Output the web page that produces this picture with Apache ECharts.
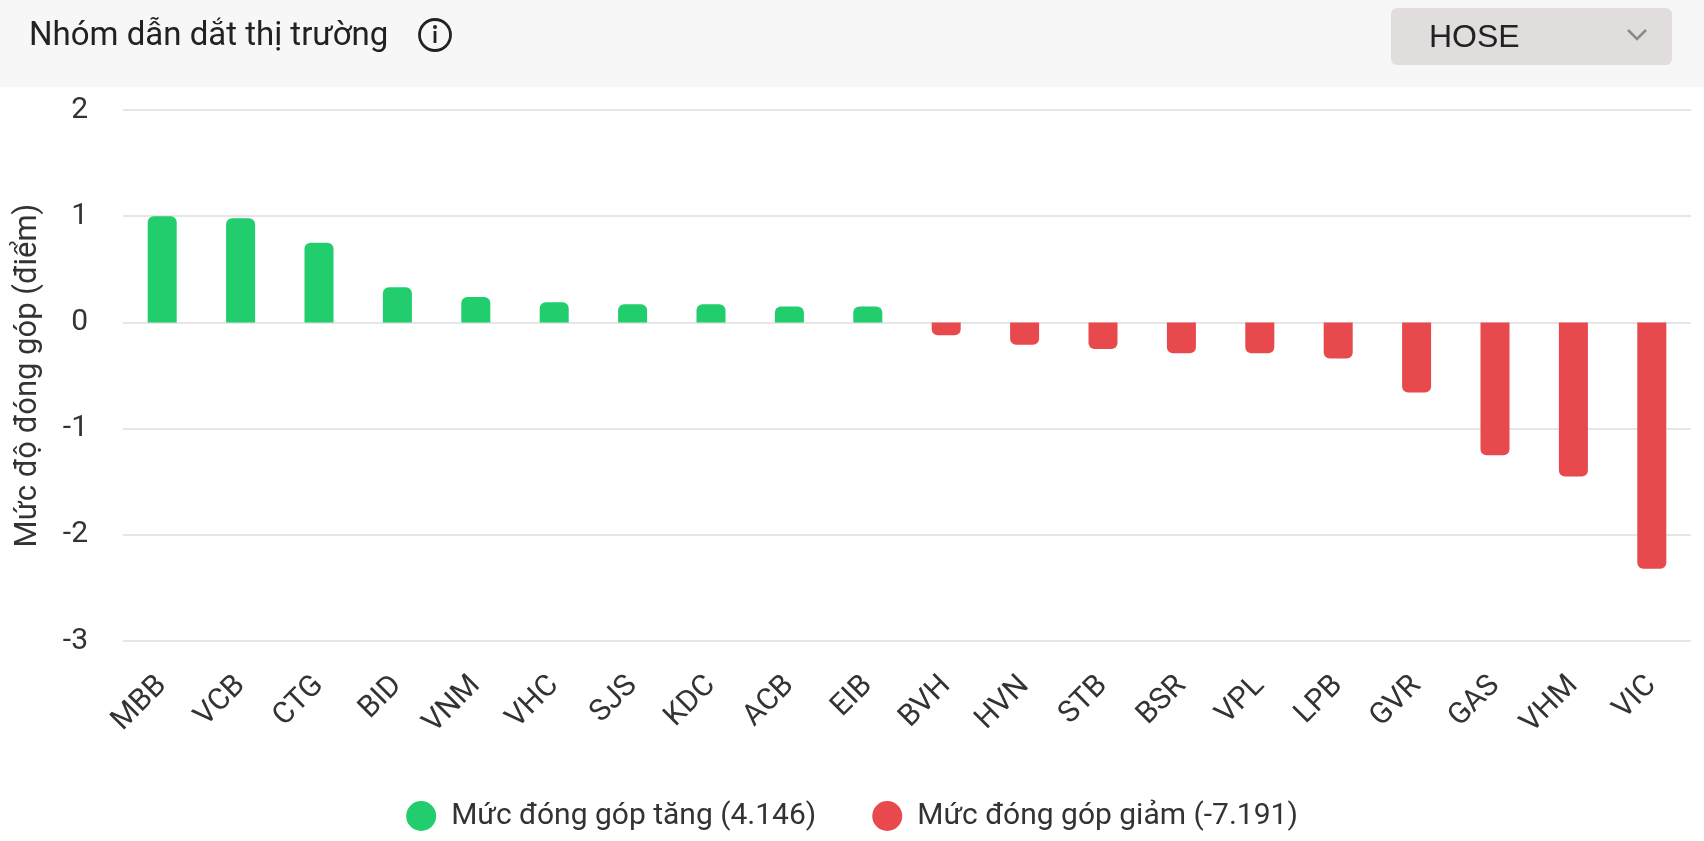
<!DOCTYPE html>
<html>
<head>
<meta charset="utf-8">
<script src="https://cdn.jsdelivr.net/npm/echarts@6/dist/echarts.min.js"></script>
<style>
  html, body { margin: 0; padding: 0; background: #fff; }
  #chart { width: 1704px; height: 841px; }
</style>
</head>
<body>
<div id="chart"></div>
<script>
const GREEN = '#21cd6d'
const RED = '#e8494c'

const categories = ['MBB', 'VCB', 'CTG', 'BID', 'VNM', 'VHC', 'SJS', 'KDC', 'ACB', 'EIB',
  'BVH', 'HVN', 'STB', 'BSR', 'VPL', 'LPB', 'GVR', 'GAS', 'VHM', 'VIC']
const upValues = [1.0, 0.98, 0.75, 0.33, 0.24, 0.19, 0.17, 0.17, 0.15, 0.15,
  '-', '-', '-', '-', '-', '-', '-', '-', '-', '-']
const downValues = ['-', '-', '-', '-', '-', '-', '-', '-', '-', '-',
  -0.12, -0.21, -0.25, -0.29, -0.29, -0.34, -0.66, -1.25, -1.45, -2.32]
const upName = 'Mức đóng góp tăng (4.146)'
const downName = 'Mức đóng góp giảm (-7.191)'
const yTicks = [-3, -2, -1, 0, 1, 2]

const FONT = 'Roboto'
const chart = echarts.init(document.getElementById('chart'), null, { renderer: 'canvas' })

const option = {
  backgroundColor: '#ffffff',
  animation: false,
  title: {
    text: 'Nhóm dẫn dắt thị trường',
    left: 24,
    top: 15,
    textStyle: { fontFamily: FONT, fontSize: 33, fontWeight: 'normal', color: '#222' }
  },
  graphic: [
    // header band
    { type: 'rect', z: -10, shape: { x: 0, y: 0, width: 1704, height: 87 }, style: { fill: '#f7f7f7' } },
    // info icon
    { type: 'circle', shape: { cx: 435, cy: 35, r: 15.5 }, style: { fill: 'none', stroke: '#222', lineWidth: 2.8 } },
    { type: 'circle', shape: { cx: 435, cy: 27, r: 2 }, style: { fill: '#222' } },
    { type: 'rect', shape: { x: 433.6, y: 31, width: 2.8, height: 12 }, style: { fill: '#222' } },
    // dropdown
    { type: 'rect', shape: { x: 1391, y: 8, width: 281, height: 57, r: 6 }, style: { fill: '#e1dddd' } },
    { type: 'text', style: { x: 1429, y: 38, text: 'HOSE', font: '32px "Liberation Sans"', fill: '#222', verticalAlign: 'middle' } },
    { type: 'polyline', shape: { points: [[1628, 30], [1637, 39], [1646, 30]] }, style: { fill: 'none', stroke: '#8a8a8a', lineWidth: 2.6 } }
  ],
  legend: {
    bottom: 5,
    left: 'center',
    icon: 'circle',
    itemWidth: 30,
    itemHeight: 30,
    itemGap: 56,
    textStyle: { fontFamily: FONT, fontSize: 30, color: '#333', padding: [0, 0, 0, 10] },
    data: [upName, downName]
  },
  grid: { left: 123, right: 13, top: 110, bottom: 200 },
  xAxis: {
    type: 'category',
    data: categories,
    axisLine: { show: false },
    axisTick: { show: false },
    axisLabel: { rotate: 45, margin: 40, fontFamily: FONT, fontSize: 30, color: '#333', interval: 0 }
  },
  yAxis: {
    type: 'value',
    min: yTicks[0],
    max: yTicks[yTicks.length - 1],
    interval: 1,
    name: 'Mức độ đóng góp (điểm)',
    nameLocation: 'middle',
    nameGap: 79,
    nameTextStyle: { fontFamily: FONT, fontSize: 31, color: '#333' },
    axisLabel: { margin: 35, fontFamily: FONT, fontSize: 30, color: '#333' },
    splitLine: { lineStyle: { color: '#e6e6e6', width: 2 } }
  },
  series: [
    {
      name: upName,
      type: 'bar',
      stack: 'total',
      barWidth: 29,
      data: upValues,
      itemStyle: { color: GREEN, borderRadius: [6, 6, 0, 0] }
    },
    {
      name: downName,
      type: 'bar',
      stack: 'total',
      barWidth: 29,
      data: downValues,
      itemStyle: { color: RED, borderRadius: [0, 0, 6, 6] }
    }
  ]
}

chart.setOption(option)
</script>
</body>
</html>
